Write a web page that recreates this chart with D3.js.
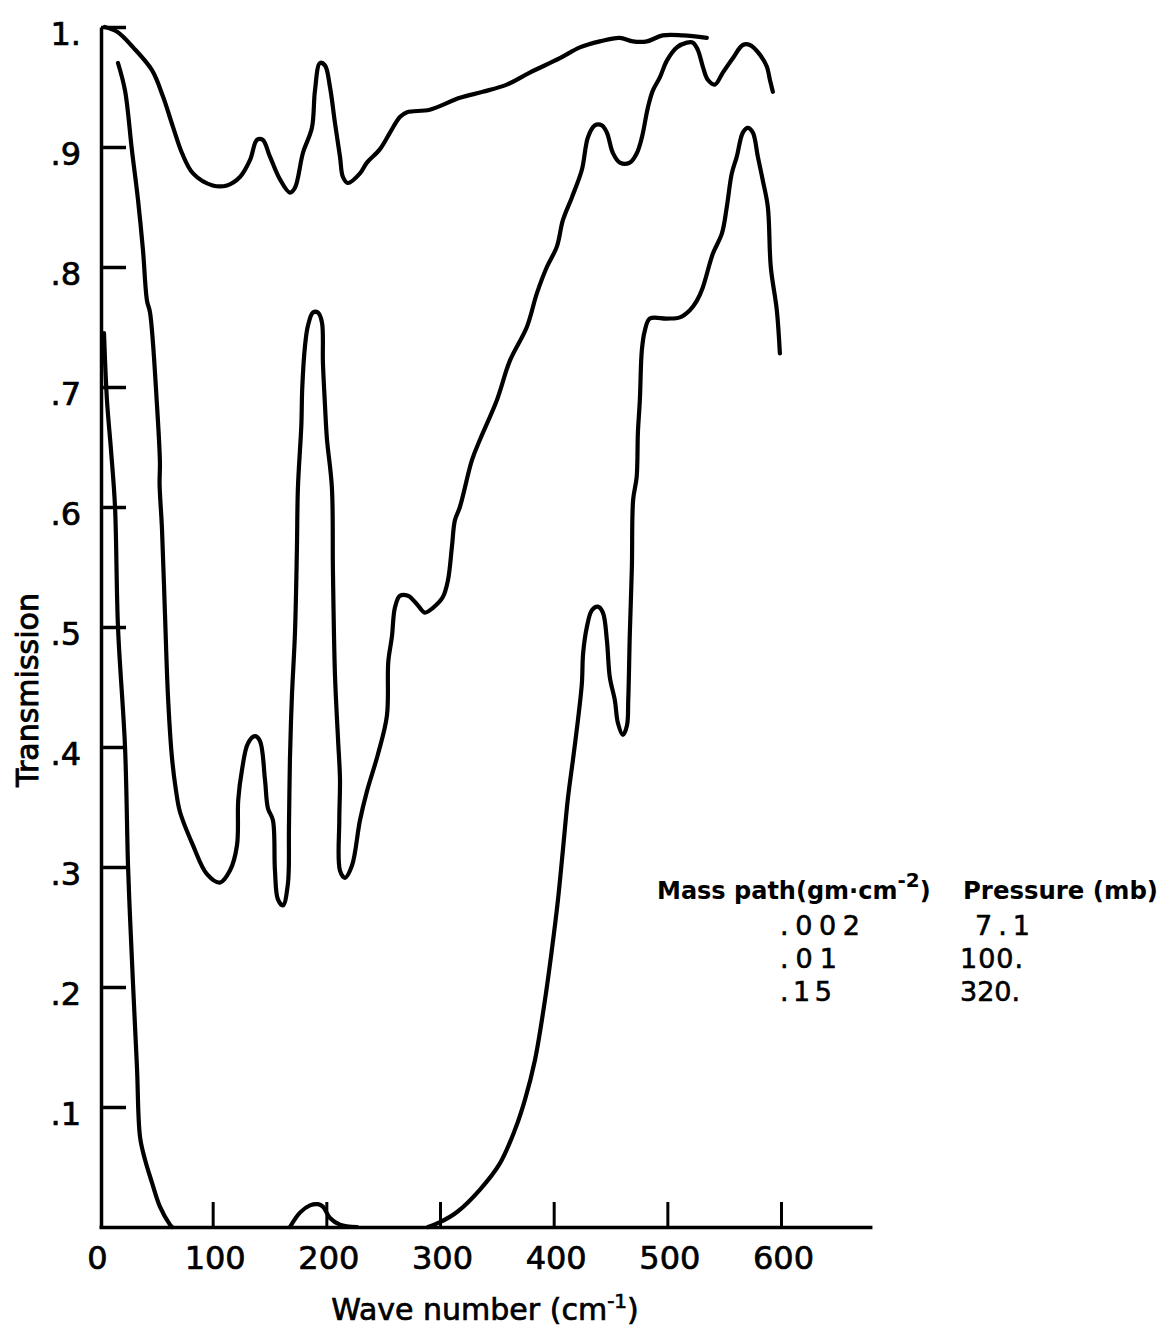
<!DOCTYPE html>
<html>
<head>
<meta charset="utf-8">
<script src="https://cdn.jsdelivr.net/npm/d3@7"></script>
<style>
  body { margin: 0; background: #fff; }
  svg { display: block; }
  text { font-family: "DejaVu Sans", sans-serif; fill: #000; }
</style>
</head>
<body>
<div id="chart"></div>
<script>
// transmission curves, [wave number cm-1, transmission]
var path002 = [
  [5,1.0],[16,0.996],[30,0.983],[46.6,0.964],[56.3,0.942],[65,0.917],[73,0.895],[82.7,0.878],
  [100,0.868],[112.6,0.868],[124,0.875],[132.8,0.889],[139,0.906],[144,0.906],[150.4,0.892],
  [159.2,0.873],[168,0.862],[172.4,0.866],[179.4,0.895],[187.3,0.916],[190,0.947],[194.4,0.970],
  [198.8,0.968],[203.2,0.950],[207.6,0.920],[212,0.892],[214.6,0.875],[219,0.870],[229.6,0.878],
  [235.7,0.887],[247,0.898],[256,0.912],[264.7,0.925],[271,0.929],[291,0.931],[317.5,0.941],
  [337.7,0.946],[358.8,0.952],[379,0.962],[405.5,0.974],[423,0.983],[440.6,0.988],[458,0.991],
  [469.7,0.988],[482,0.988],[496,0.993],[513.6,0.993],[534.7,0.991]
];

var path01 = [
  [16.7,0.970],[22.9,0.947],[29,0.897],[34.3,0.856],[38.7,0.814],[42.2,0.772],[44.9,0.762],
  [51,0.685],[53.6,0.637],[53.3,0.619],[55.4,0.582],[58,0.512],[60.7,0.442],[64.2,0.391],
  [67.7,0.364],[71.2,0.346],[82.7,0.318],[95,0.294],[106.4,0.287],[115.2,0.297],[121.4,0.318],
  [122.5,0.356],[125.8,0.381],[131,0.403],[137.2,0.409],[141.6,0.405],[146,0.373],[148.6,0.349],
  [153,0.339],[154.8,0.297],[157.4,0.273],[161.8,0.268],[166.2,0.286],[167.1,0.332],[168,0.391],
  [169.7,0.442],[172.4,0.495],[174.1,0.564],[175,0.616],[178,0.668],[178.8,0.699],[181.2,0.734],
  [183.8,0.751],[188.2,0.762],[192.6,0.762],[196.1,0.754],[197,0.720],[198.8,0.685],[200.5,0.657],
  [204.9,0.616],[205.8,0.547],[207.6,0.460],[210.2,0.408],[212,0.373],[211.4,0.339],[212,0.297],
  [216.4,0.291],[222.5,0.301],[229.6,0.339],[235.7,0.363],[245.4,0.394],[253.3,0.426],[254.5,0.471],
  [257.7,0.492],[260.3,0.516],[264.7,0.526],[271.8,0.526],[279.7,0.519],[286.7,0.512],[293.8,0.516],
  [302.5,0.525],[307,0.539],[310.5,0.567],[313.1,0.589],[317.5,0.600],[328.1,0.639],[335.1,0.656],
  [350,0.689],[361.5,0.722],[376.4,0.750],[385.2,0.778],[394,0.800],[402.8,0.817],[408.1,0.839],
  [416,0.858],[424.8,0.881],[430.1,0.908],[436.2,0.918],[442.4,0.918],[446.8,0.912],[452.1,0.895],
  [458.2,0.887],[467,0.887],[473.2,0.895],[477.6,0.908],[482.9,0.933],[487.2,0.947],[493.4,0.958],
  [499.6,0.972],[508.4,0.983],[517.2,0.987],[522.4,0.987],[526.8,0.981],[531.2,0.967],[535.6,0.956],
  [541.8,0.952],[548.8,0.962],[557.6,0.974],[566.4,0.985],[572.6,0.985],[581.4,0.977],[587.5,0.967],
  [590.2,0.956],[592.8,0.946]
];

var path15 = [
  [
    [4.4,0.745],[7,0.689],[10.6,0.647],[14.1,0.600],[16.7,0.500],[22.9,0.400],[25.5,0.302],
    [27.3,0.258],[29.9,0.203],[33.4,0.133],[36.1,0.075],[40.5,0.056],[46.6,0.037],[53.6,0.017],
    [62.4,0.002],[64.2,0]
  ],
  [
    [168,0],[176.8,0.012],[185.6,0.018],[192.6,0.019],[197,0.017],[203.2,0.0075],[212,0.002],[227,0]
  ],
  [
    [289.4,0],[300,0.004],[315,0.0125],[335,0.031],[352.7,0.053],[365.9,0.081],[374.7,0.106],
    [383.5,0.139],[392.3,0.189],[398.4,0.231],[403.7,0.272],[408.1,0.314],[412.5,0.357],[416.9,0.389],
    [421.3,0.422],[424.8,0.453],[425.9,0.478],[429.2,0.500],[433.6,0.514],[438.9,0.517],[443.3,0.512],
    [446.8,0.489],[449.4,0.458],[453.8,0.439],[456.5,0.420],[460.9,0.410],[464.5,0.418],[465.6,0.439],
    [467,0.495],[468.8,0.550],[469.9,0.606],[473,0.625],[474.1,0.662],[475.8,0.689],[477.6,0.731],
    [480.2,0.747],[484.6,0.757],[499.6,0.757],[511,0.758],[519.8,0.764],[526,0.772],[531.2,0.783],
    [540,0.811],[548,0.828],[552.3,0.850],[556.7,0.878],[561.1,0.892],[566.4,0.912],[570.8,0.916],
    [575.2,0.912],[579.6,0.892],[584,0.872],[588.4,0.850],[591,0.800],[596.3,0.764],[599,0.728]
  ]
];

var xTicks = [0, 100, 200, 300, 400, 500, 600];
var yTicks = [0.1, 0.2, 0.3, 0.4, 0.5, 0.6, 0.7, 0.8, 0.9, 1.0];
var yTickLabels = [".1", ".2", ".3", ".4", ".5", ".6", ".7", ".8", ".9", "1."];

var legendHeads = ["Mass path", "Pressure (mb)"];
var massPaths = [".002", ".01", ".15"];
var pressures = ["7.1", "100.", "320."];

var width = 1165, height = 1332;

var x = d3.scaleLinear().domain([0, 680]).range([99, 99 + 680 * 1.1367]);
var y = d3.scaleLinear().domain([0, 1]).range([1227, 27]);

var svg = d3.select('#chart')
  .append('svg')
  .attr('width', width)
  .attr('height', height);

var line = d3.line()
  .x(d => x(d[0]))
  .y(d => y(d[1]))
  .curve(d3.curveCatmullRom.alpha(0.5));

// curves
var curves = [path002, path01].concat(path15);
svg.append('g')
  .selectAll('path')
  .data(curves)
  .enter()
  .append('path')
  .attr('d', line)
  .attr('fill', 'none')
  .attr('stroke', '#000')
  .attr('stroke-width', 4.2)
  .attr('stroke-linejoin', 'round')
  .attr('stroke-linecap', 'round');

// y axis, ticks pointing inward
var yAxis = svg.append('g')
  .attr('transform', `translate(${x(0) + 2},0)`)
  .call(d3.axisLeft(y)
    .tickValues(yTicks)
    .tickSize(-25)
    .tickSizeOuter(0)
    .tickPadding(20)
    .tickFormat((d, i) => yTickLabels[i]));

yAxis.select('.domain').attr('stroke-width', 3.5);
yAxis.selectAll('.tick line').attr('stroke-width', 3.5);
yAxis.selectAll('.tick text')
  .attr('font-size', 32)
  .attr('font-family', '"DejaVu Sans", sans-serif')
  .attr('stroke', '#000')
  .attr('stroke-width', 0.7)
  .attr('dy', '0.55em');

// x axis, ticks pointing up
var xAxis = svg.append('g')
  .attr('transform', `translate(0,${y(0)})`)
  .call(d3.axisBottom(x)
    .tickValues(xTicks)
    .tickSize(-25)
    .tickSizeOuter(0)
    .tickPadding(18)
    .tickFormat(d3.format('d')));

xAxis.select('.domain').attr('stroke-width', 3.5);
xAxis.selectAll('.tick line')
  .attr('stroke-width', 3)
  .attr('display', d => d === 0 ? 'none' : null);
xAxis.selectAll('.tick text')
  .attr('font-size', 32)
  .attr('font-family', '"DejaVu Sans", sans-serif')
  .attr('stroke', '#000')
  .attr('stroke-width', 0.7)
  .attr('dy', '0.75em')
  .attr('dx', d => d === 0 ? -2 : 2);

// axis titles
var xTitle = svg.append('text')
  .attr('x', 485)
  .attr('y', 1320)
  .attr('text-anchor', 'middle')
  .attr('font-size', 30)
  .attr('stroke', '#000')
  .attr('stroke-width', 0.7);
xTitle.append('tspan').text('Wave number (cm');
xTitle.append('tspan').attr('font-size', 20).attr('dy', -12).text('-1');
xTitle.append('tspan').attr('dy', 12).text(')');

svg.append('text')
  .attr('transform', 'translate(38,690) rotate(-90)')
  .attr('text-anchor', 'middle')
  .attr('font-size', 30)
  .attr('stroke', '#000')
  .attr('stroke-width', 0.9)
  .text('Transmission');

// legend table
var head1 = svg.append('text')
  .attr('x', 657)
  .attr('y', 899)
  .attr('font-size', 24)
  .attr('font-weight', 'bold');
head1.append('tspan').text(legendHeads[0] + '(gm\u00b7cm');
head1.append('tspan').attr('font-size', 20).attr('dy', -12).text('-2');
head1.append('tspan').attr('dy', 12).text(')');

svg.append('text')
  .attr('x', 963)
  .attr('y', 899)
  .attr('font-size', 24)
  .attr('font-weight', 'bold')
  .attr('textLength', 195)
  .attr('lengthAdjust', 'spacingAndGlyphs')
  .text(legendHeads[1]);

var rowY = [935, 968, 1001];
var massLen = [80, 57, 52];
var presX = [975, 960, 960];
var presLen = [55, 63, 60];

svg.append('g')
  .selectAll('text')
  .data(massPaths)
  .enter()
  .append('text')
  .attr('x', 780)
  .attr('y', (d, i) => rowY[i])
  .attr('font-size', 27)
  .attr('stroke', '#000')
  .attr('stroke-width', 0.6)
  .attr('textLength', (d, i) => massLen[i])
  .attr('lengthAdjust', 'spacing')
  .text(d => d);

svg.append('g')
  .selectAll('text')
  .data(pressures)
  .enter()
  .append('text')
  .attr('x', (d, i) => presX[i])
  .attr('y', (d, i) => rowY[i])
  .attr('font-size', 27)
  .attr('stroke', '#000')
  .attr('stroke-width', 0.6)
  .attr('textLength', (d, i) => presLen[i])
  .attr('lengthAdjust', 'spacing')
  .text(d => d);
</script>
</body>
</html>
